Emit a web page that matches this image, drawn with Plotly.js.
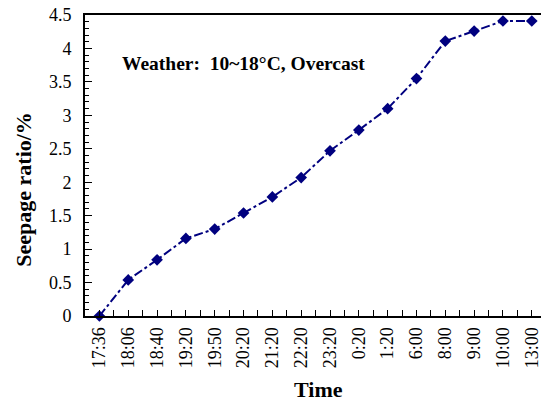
<!DOCTYPE html>
<html>
<head>
<meta charset="utf-8">
<script src="https://cdn.plot.ly/plotly-3.0.1.min.js"></script>
<style>html,body{margin:0;padding:0;overflow:hidden;background:#fff;}</style>
</head>
<body>
<div id="chart" style="width:541px;height:402px;"></div>
<script>
const timeLabels = ["17:36","18:06","18:40","19:20","19:50","20:20","21:20","22:20","23:20","0:20","1:20","6:00","8:00","9:00","10:00","13:00"];
const seepageRatio = [0, 0.54, 0.84, 1.16, 1.30, 1.54, 1.78, 2.07, 2.47, 2.78, 3.10, 3.55, 4.11, 4.26, 4.41, 4.41];
const yTickVals = [0, 0.5, 1, 1.5, 2, 2.5, 3, 3.5, 4, 4.5];
const yTickText = ["0", "0.5", "1", "1.5", "2", "2.5", "3", "3.5", "4", "4.5"];

const idx = timeLabels.map((_, i) => i);
const font = "Liberation Serif";

Plotly.newPlot("chart", [{
  x: idx,
  y: seepageRatio,
  type: "scatter",
  mode: "lines+markers",
  line: {color: "#00007f", width: 2, dash: "dashdot"},
  marker: {symbol: "diamond", size: 9, color: "#00007f"},
  cliponaxis: false,
  hoverinfo: "skip"
}], {
  width: 541, height: 402,
  margin: {l: 85, r: 0, t: 15, b: 86},
  paper_bgcolor: "#fff", plot_bgcolor: "#fff",
  showlegend: false,
  font: {family: font, color: "#000", size: 18},
  xaxis: {
    range: [-0.5, 15.32],
    tickmode: "array", tickvals: idx, ticktext: timeLabels,
    tickangle: -90,
    ticklabeloverflow: "allow",
    ticks: "inside", ticklen: 6, tickwidth: 1, tickcolor: "#000",
    minor: {tickmode: "linear", tick0: -0.5, dtick: 1, ticks: "inside", ticklen: 6, tickwidth: 1, tickcolor: "#000"},
    showline: true, linecolor: "#000", linewidth: 2, mirror: true,
    showgrid: false, zeroline: false,
    tickfont: {family: font, size: 18, color: "#000"},
    ticklabelstandoff: 2
  },
  yaxis: {
    range: [0, 4.5],
    tickmode: "array", tickvals: yTickVals, ticktext: yTickText,
    ticks: "inside", ticklen: 7, tickwidth: 1, tickcolor: "#000",
    minor: {tickmode: "linear", tick0: 0, dtick: 0.1, ticks: "inside", ticklen: 4, tickwidth: 1, tickcolor: "#000"},
    showline: true, linecolor: "#000", linewidth: 2, mirror: false,
    showgrid: false, zeroline: false,
    tickfont: {family: font, size: 18, color: "#000"},
    ticklabelstandoff: 8
  },
  annotations: [
    {text: "<b>Weather:  10~18°C, Overcast</b>", xref: "paper", yref: "paper",
     x: (120 - 85) / 456, y: (316.5 - 64) / 301.5, xanchor: "left", yanchor: "middle",
     showarrow: false, font: {family: font, size: 19.5, color: "#000"}},
    {text: "<b>Time</b>", xref: "paper", yref: "paper",
     x: (318 - 85) / 456, y: (316.5 - 390) / 301.5, xanchor: "center", yanchor: "middle",
     showarrow: false, font: {family: font, size: 22, color: "#000"}},
    {text: "<b>Seepage ratio/%</b>", xref: "paper", yref: "paper",
     x: (24 - 85) / 456, y: (316.5 - 190) / 301.5, xanchor: "center", yanchor: "middle",
     textangle: -90, showarrow: false, font: {family: font, size: 22, color: "#000"}}
  ]
}, {staticPlot: true, displayModeBar: false});
</script>
</body>
</html>
